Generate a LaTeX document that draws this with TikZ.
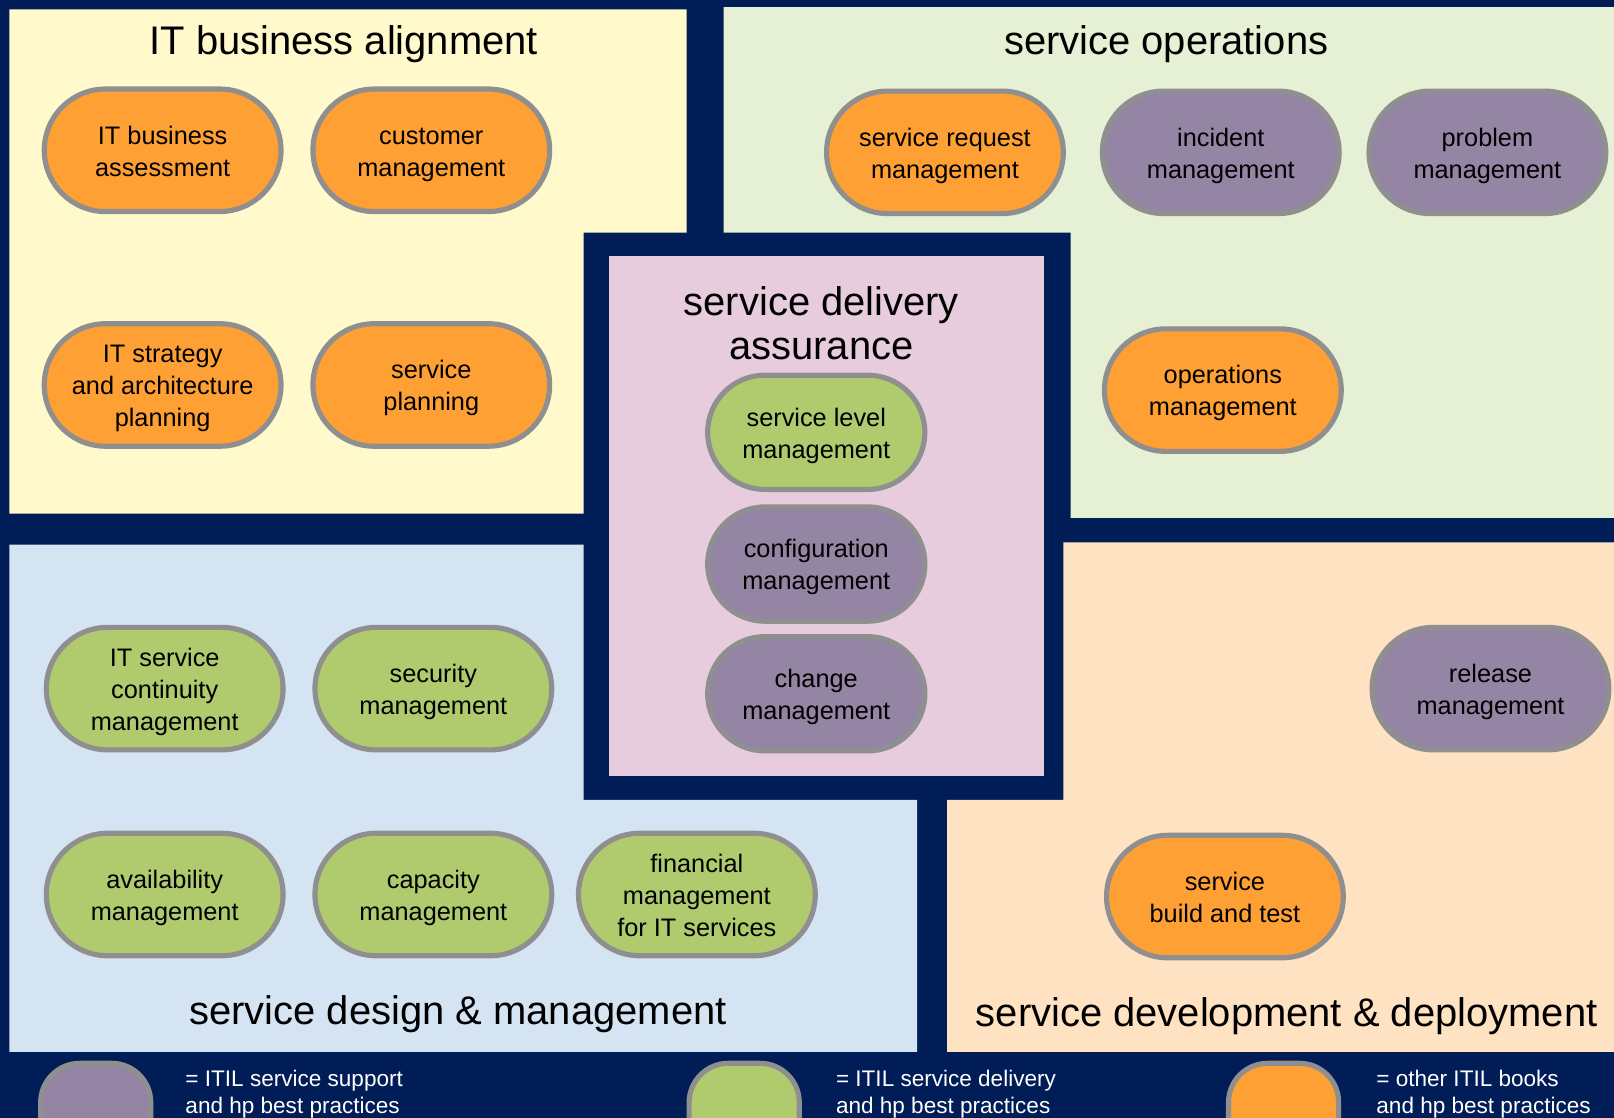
\documentclass[tikz,border=0pt]{standalone}
\usepackage{fontspec}
\setmainfont{Liberation Sans}
\usetikzlibrary{positioning, shapes.misc}

\definecolor{navy}{RGB}{0,29,87}
\definecolor{paneyellow}{RGB}{255,249,204}
\definecolor{panegreen}{RGB}{230,240,213}
\definecolor{panepink}{RGB}{231,204,221}
\definecolor{paneblue}{RGB}{213,228,242}
\definecolor{panepeach}{RGB}{255,226,194}
\definecolor{pillorange}{RGB}{255,160,53}
\definecolor{pillpurple}{RGB}{148,133,164}
\definecolor{pillgreen}{RGB}{175,203,110}
\definecolor{pillgray}{RGB}{143,143,143}

\newcommand{\itilpillfont}{\fontsize{24.6}{31}\selectfont}
\newcommand{\itiltitlefont}{\fontsize{38.8}{42}\selectfont}
\newcommand{\itillegfont}{\fontsize{21.9}{27}\selectfont}
\newcommand{\pilltop}{\rule{0pt}{25pt}}
\newcommand{\pillbottom}{\rule[-6pt]{0pt}{6pt}}

\begin{document}
\begin{tikzpicture}[
  x=1pt, y=-1pt,
  pill/.style={rounded rectangle, draw=pillgray, line width=5pt, minimum width=230pt,
    minimum height=119pt, inner sep=0pt, align=center, font=\itilpillfont,
    node contents={\pilltop#1\pillbottom}},
  smallpill/.style={minimum width=211pt, minimum height=111pt},
  orangepill/.style={fill=pillorange},
  purplepill/.style={fill=pillpurple},
  greenpill/.style={fill=pillgreen},
  paneltitle/.style={font=\itiltitlefont, inner sep=0pt},
  legpill/.style={rectangle, rounded corners=38pt, draw=pillgray, line width=5pt,
    minimum width=107pt, minimum height=110pt},
  legtext/.style={font=\itillegfont, text=white, align=left, inner sep=0pt, anchor=west}
]

\clip (0,0) rectangle (1568,1086);
\fill[navy] (0,0) rectangle (1568,1086);

\fill[paneyellow] (9,9) -- (667,9) -- (667,226) -- (567,226) -- (567,499) -- (9,499) -- cycle;
\fill[panegreen] (703,7) -- (1568,7) -- (1568,503) -- (1040,503) -- (1040,226) -- (703,226) -- cycle;
\fill[paneblue] (9,529) -- (567,529) -- (567,777) -- (891,777) -- (891,1022) -- (9,1022) -- cycle;
\fill[panepeach] (1033,527) -- (1568,527) -- (1568,1022) -- (920,1022) -- (920,777) -- (1033,777) -- cycle;
\fill[panepink] (592,249) rectangle (1014,754);

% IT business alignment
\node (tAlign) at (334,53) [paneltitle, anchor=base] {IT business alignment};
\node (itassess) at (158,146) [pill={IT business\\assessment}, orangepill];
\node (custmgmt) at (419,146) [pill={customer\\management}, orangepill];
\node (itstrat) at (158,374) [pill={IT strategy\\and architecture\\planning}, orangepill];
\node (svcplan) at (419,374) [pill={service\\planning}, orangepill];

% service operations
\node (tOps) at (1133,53) [paneltitle, anchor=base] {service operations};
\node (svcreq) at (918,148) [pill={service request\\management}, orangepill];
\node (incident) at (1186,148) [pill={incident\\management}, purplepill];
\node (problem) at (1445,148) [pill={problem\\management}, purplepill];
\node (opsmgmt) at (1188,379) [pill={operations\\management}, orangepill];

% service delivery assurance
\node (tAssure) at (798,314) [paneltitle, align=center] {service delivery\\assurance};
\node (slm) at (793,420) [pill={service level\\management}, smallpill, greenpill];
\node (config) [below=12pt of slm, pill={configuration\\management}, smallpill, purplepill];
\node (change) [below=10pt of config, pill={change\\management}, smallpill, purplepill];

% service design & management
\node (itscm) at (160,669) [pill={IT service\\continuity\\management}, greenpill];
\node (secmgmt) at (421,669) [pill={security\\management}, greenpill];
\node (avail) at (160,869) [pill={availability\\management}, greenpill];
\node (capacity) at (421,869) [pill={capacity\\management}, greenpill];
\node (finmgmt) at (677,869) [pill={financial\\management\\for IT services}, greenpill];
\node (tDesign) at (445,995) [paneltitle, anchor=base] {service design \& management};

% service development & deployment
\node (release) at (1448,669) [pill={release\\management}, purplepill];
\node (buildtest) at (1190,871) [pill={service\\build and test}, orangepill];
\node (tDevel) at (1250,997) [paneltitle, anchor=base] {service development \& deployment};

% legend
\node (legSupport) at (93,1088) [legpill, purplepill] {};
\node (legSupportTxt) at (180,1063) [legtext] {= ITIL service support\\and hp best practices};
\node (legDelivery) at (723,1088) [legpill, greenpill] {};
\node (legDeliveryTxt) at (812,1063) [legtext] {= ITIL service delivery\\and hp best practices};
\node (legOther) at (1247,1088) [legpill, orangepill] {};
\node (legOtherTxt) at (1337,1063) [legtext] {= other ITIL books\\and hp best practices};

\end{tikzpicture}
\end{document}
